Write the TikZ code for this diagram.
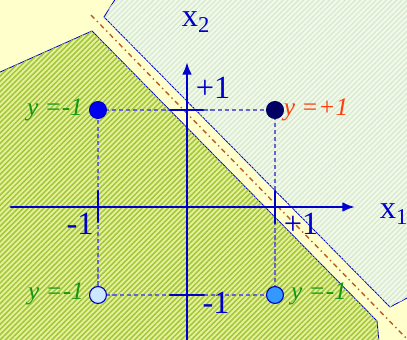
\documentclass[tikz,border=0pt]{standalone}
\usepackage{fontspec}
\setmainfont{Liberation Serif}
\usetikzlibrary{arrows.meta,patterns.meta}
\definecolor{paper}{RGB}{255,255,204}
\definecolor{axisblue}{RGB}{0,0,204}
\definecolor{guidegray}{RGB}{102,102,204}
\definecolor{gbase}{RGB}{232,240,160}
\definecolor{gline}{RGB}{160,200,55}
\definecolor{cbase}{RGB}{242,249,234}
\definecolor{cline}{RGB}{214,234,206}
\definecolor{sepbrown}{RGB}{190,90,40}
\definecolor{labgreen}{RGB}{20,150,20}
\definecolor{labred}{RGB}{255,60,10}
\begin{document}
\begin{tikzpicture}[x=0.025cm,y=-0.025cm,line cap=round,line join=round,
  axis/.style={line width=2.1pt,axisblue},
  guide/.style={line width=1.1pt,guidegray,dash pattern=on 3pt off 2pt,line cap=butt},
  dot/.style={circle,inner sep=0pt,minimum size=12pt,draw=axisblue,line width=0.8pt},
  blab/.style={font=\fontsize{23}{26}\selectfont,text=axisblue,inner sep=0pt},
  ylab/.style={font=\fontsize{18}{21}\selectfont\itshape,inner sep=0pt}]
  \useasboundingbox (0,0) rectangle (407,340);
  \fill[paper] (0,0) rectangle (407,340);
  % class regions
  \draw[axisblue,line width=0.6pt,fill=cbase,postaction={pattern={Lines[angle=45,distance=2.6pt,line width=0.9pt]},pattern color=cline}]
    (104,17) -- (116,-2) -- (409,-2) -- (409,297) -- (390,307) -- cycle;
  \draw[axisblue,line width=0.6pt,fill=gbase,postaction={pattern={Lines[angle=45,distance=2.6pt,line width=1.1pt]},pattern color=gline}]
    (-2,73) -- (92,31) -- (377,321) -- (379,342) -- (-2,342) -- cycle;
  \draw[sepbrown,line width=1pt,line cap=butt,dash pattern=on 3.5pt off 2.5pt on 1pt off 2.5pt] (91,15) -- (408,340);
  % points and dashed square
  \coordinate (A) at (98,110);
  \coordinate (B) at (275,110);
  \coordinate (C) at (98,295);
  \coordinate (D) at (275,295);
  \draw[guide] (A) -- (B) -- (D) -- (C) -- cycle;
  % axes
  \coordinate (x1s) at (11,207);
  \coordinate (x1e) at (355,207);
  \coordinate (x2s) at (187,342);
  \coordinate (x2e) at (187,62);
  \draw[axis,-{Latex[length=9pt,width=7pt]}] (x1s) -- (x1e);
  \draw[axis,-{Latex[length=9pt,width=7pt]}] (x2s) -- (x2e);
  \draw[axis] (98,191) -- (98,222);
  \draw[axis] (275,191) -- (275,223);
  \draw[axis] (170,110) -- (203,110);
  \draw[axis] (170,295) -- (204,295);
  \node[dot,fill={rgb,255:red,0;green,0;blue,238}] (pa) at (A) {};
  \node[dot,fill={rgb,255:red,0;green,0;blue,100},draw={rgb,255:red,0;green,0;blue,100}] (pb) at (B) {};
  \node[dot,fill={rgb,255:red,204;green,232;blue,255}] (pc) at (C) {};
  \node[dot,fill={rgb,255:red,51;green,153;blue,255}] (pd) at (D) {};
  % labels
  \node[blab] (lx2) at (196,22) {x\textsubscript{2}};
  \node[blab] (lx1) at (394,214) {x\textsubscript{1}};
  \node[blab] (ltop) at (213,88) {+1};
  \node[blab] (lleft) at (80,224) {-1};
  \node[blab] (lright) at (301,224) {+1};
  \node[blab] (lbot) at (216,303) {-1};
  \node[ylab,text=labgreen] (ya) at (55,110) {y =-1};
  \node[ylab,text=labred] (yb) at (316,110) {y =+1};
  \node[ylab,text=labgreen] (yc) at (56,294) {y =-1};
  \node[ylab,text=labgreen] (yd) at (319,294) {y =-1};
\end{tikzpicture}
\end{document}
